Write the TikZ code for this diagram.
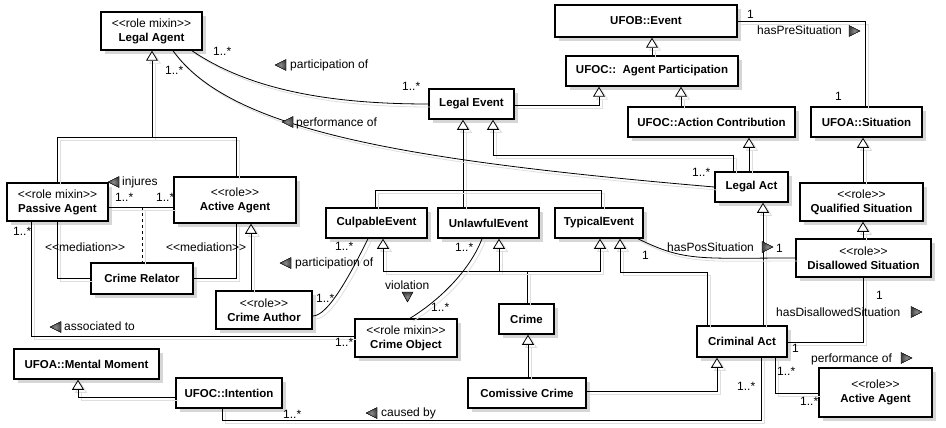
\documentclass[tikz,border=0pt]{standalone}
\usepackage{fontspec}
\setmainfont{Liberation Sans}
\usetikzlibrary{arrows.meta,shadows,calc}
\newcommand\rfont{\fontsize{12}{14}\selectfont}
\newcommand\bfont{\fontsize{11.5}{14}\selectfont\bfseries}
\newcommand\st[1]{{\rfont\mdseries <\kern0pt<#1>\kern0pt>}}
\newcommand\trileft[2]{\filldraw[tri] (#1,#2) -- ++(11,-5.5) -- ++(0,11) -- cycle;}
\newcommand\triright[2]{\filldraw[tri] (#1,#2) -- ++(-11,-5.5) -- ++(0,11) -- cycle;}
\newcommand\tridown[2]{\filldraw[tri] (#1,#2) -- ++(-5.5,-10) -- ++(11,0) -- cycle;}
\begin{document}
\begin{tikzpicture}[x=1pt,y=-1pt,
  cls/.style={draw, line width=1.5pt, fill=white, inner sep=1pt, align=center, font=\bfont,
    drop shadow={shadow xshift=4pt, shadow yshift=-4pt, fill=black!16, opacity=1}},
  conn/.style={line width=0.8pt,
    preaction={draw=black!13, line width=0.8pt, transform canvas={xshift=3pt, yshift=-3pt}}},
  gen/.style={conn, -{Triangle[open, length=10pt, width=12pt, fill=white]}},
  lbl/.style={font=\rfont, inner sep=0pt, anchor=west, text height=8.5pt, text depth=2.5pt},
  tri/.style={inner color=black!45, outer color=black!75, draw=black, line width=0.4pt}]
\fill[white] (0,0) rectangle (946,428);
\useasboundingbox (0,0) rectangle (946,428);

% classes
\node[cls, minimum width=101pt, minimum height=38pt] (LA) at (151.5,31) {\st{role mixin}\\Legal Agent};
\node[cls, minimum width=182pt, minimum height=32pt] (UE) at (646,21) {UFOB::Event};
\node[cls, minimum width=172pt, minimum height=30pt] (AP) at (652,71) {UFOC::\ \ Agent Participation};
\node[cls, minimum width=167pt, minimum height=30pt] (AC) at (711.5,122) {UFOC::Action Contribution};
\node[cls, minimum width=111pt, minimum height=30pt] (SIT) at (866.5,122) {UFOA::Situation};
\node[cls, minimum width=85pt, minimum height=30pt] (LE) at (471.5,104) {Legal Event};
\node[cls, minimum width=73pt, minimum height=30pt] (LAct) at (751.5,187) {Legal Act};
\node[cls, minimum width=123pt, minimum height=38pt] (QS) at (861.5,202) {\st{role}\\Qualified Situation};
\node[cls, minimum width=135pt, minimum height=38pt] (DS) at (863.5,258) {\st{role}\\Disallowed Situation};
\node[cls, minimum width=101pt, minimum height=30pt] (CE) at (376.5,223) {CulpableEvent};
\node[cls, minimum width=101pt, minimum height=30pt] (UnE) at (488.5,223) {UnlawfulEvent};
\node[cls, minimum width=88pt, minimum height=30pt] (TE) at (599,223) {TypicalEvent};
\node[cls, minimum width=101pt, minimum height=38pt] (PA) at (57.5,202) {\st{role mixin}\\Passive Agent};
\node[cls, minimum width=122pt, minimum height=46pt] (AA) at (235,200) {\st{role}\\Active Agent};
\node[cls, minimum width=102pt, minimum height=31pt] (CR) at (142,278.5) {Crime Relator};
\node[cls, minimum width=96pt, minimum height=38pt] (CAu) at (264,310) {\st{role}\\Crime Author};
\node[cls, minimum width=102pt, minimum height=38pt] (CO) at (406,338) {\st{role mixin}\\Crime Object};
\node[cls, minimum width=55pt, minimum height=30pt] (Crime) at (526.5,319) {Crime};
\node[cls, minimum width=118pt, minimum height=30pt] (CC) at (527,393) {Comissive Crime};
\node[cls, minimum width=90pt, minimum height=31pt] (CA) at (742,341.5) {Criminal Act};
\node[cls, minimum width=113pt, minimum height=49pt] (AA2) at (875.5,392.5) {\st{role}\\Active Agent};
\node[cls, minimum width=145pt, minimum height=30pt] (MM) at (86.5,364) {UFOA::Mental Moment};
\node[cls, minimum width=106pt, minimum height=30pt] (INT) at (229,393) {UFOC::Intention};

% generalizations
\coordinate (laj) at (152,137);
\draw[gen] (PA.north -| 57,0) |- (laj) -- (LA.south -| 152,0);
\draw[conn] (AA.north -| 236,0) |- (laj);
\draw[gen] (CAu.north -| 251,0) -- (AA.south -| 251,0);
\coordinate (lej) at (463,190);
\draw[gen] (UnE.north -| 463,0) -- (LE.south -| 463,0);
\draw[conn] (CE.north -| 375,0) |- (lej);
\draw[conn] (TE.north -| 601,0) |- (lej);
\draw[gen] (LAct.north -| 733,0) |- (493,155) -- (LE.south -| 493,0);
\draw[gen] (LAct.north -| 749,0) -- (AC.south -| 749,0);
\draw[gen] (LE.east |- 0,105) -| (AP.south -| 599,0);
\draw[gen] (AP.north -| 652,0) -- (UE.south -| 652,0);
\draw[gen] (AC.north -| 681,0) -- (AP.south -| 681,0);
\draw[gen] (QS.north -| 863,0) -- (SIT.south -| 863,0);
\draw[gen] (DS.north -| 863,0) -- (QS.south -| 863,0);
\draw[gen] (CA.north -| 763,0) -- (LAct.south -| 763,0);
\draw[gen] (CA.north -| 707,0) |- (620,272) -- (TE.south -| 620,0);
\coordinate (crj) at (527,271);
\draw[gen] (Crime.north -| 527,0) |- (383,271) -- (CE.south -| 383,0);
\draw[gen] (crj) -| (UnE.south -| 499,0);
\draw[gen] (crj) -| (TE.south -| 600,0);
\draw[gen] (CC.north -| 528,0) -- (Crime.south -| 528,0);
\draw[gen] (CC.east |- 0,391) -| (CA.south -| 717,0);
\draw[gen] (INT.west |- 0,397) -| (MM.south -| 78,0);

% associations
\draw[conn] (LA.south -| 192,0) .. controls (250,90) and (330,104) .. (LE.west |- 0,104);
\draw[conn] (LA.south -| 173,0) .. controls (230,130) and (400,160) .. (LAct.west |- 0,187);
\draw[conn] (UE.east |- 0,21) -| (SIT.north -| 865,0);
\coordinate (injm) at (142,207);
\draw[conn] (PA.east |- 0,207) -- (AA.west |- 0,207);
\draw[conn, dashed] (injm) -- (CR.north -| 142,0);
\draw[conn] (PA.south -| 57,0) |- (CR.west |- 0,278);
\draw[conn] (CR.east |- 0,278) -| (AA.south -| 236,0);
\draw[conn] (PA.south -| 31,0) |- (CO.west |- 0,336);
\draw[conn] (CAu.east |- 0,316) .. controls (328,316) and (350,275) .. (CE.south -| 368,0);
\draw[conn] (CO.north -| 410,0) .. controls (440,300) and (470,270) .. (UnE.south -| 482,0);
\draw[conn] (TE.south -| 638,0) .. controls (685,262) and (700,258) .. (DS.west |- 0,258);
\draw[conn] (DS.south -| 863,0) |- (CA.east |- 0,342);
\draw[conn] (CA.south -| 775,0) |- (AA2.west |- 0,393);
\draw[conn] (INT.south -| 222,0) |- (761,420) -- (CA.south -| 761,0);

% labels
\node[lbl] (l1) at (213,53) {1..*};
\node[lbl] (l2) at (165,72) {1..*};
\trileft{275}{65}
\node[lbl] (l3) at (290,66) {participation of};
\trileft{282}{122}
\node[lbl] (l4) at (296,123) {performance of};
\node[lbl] (l5) at (402,88) {1..*};
\node[lbl] (l6) at (692,173) {1..*};
\node[lbl] (l7) at (747,16) {1};
\node[lbl] (l8) at (757,32) {hasPreSituation};
\triright{860}{31}
\node[lbl] (l9) at (835,97) {1};
\trileft{108}{182}
\node[lbl] (l10) at (122,182) {injures};
\node[lbl] (l11) at (115,198) {1..*};
\node[lbl] (l12) at (156,198) {1..*};
\node[lbl] (l13) at (13,232) {1..*};
\node[lbl] (l14) at (45,248) {\st{mediation}};
\node[lbl] (l15) at (166,248) {\st{mediation}};
\trileft{280}{263}
\node[lbl] (l16) at (295,263) {participation of};
\node[lbl] (l17) at (335,247) {1..*};
\node[lbl] (l18) at (316,299) {1..*};
\node[lbl] (l19) at (385,286) {violation};
\tridown{407.5}{302}
\node[lbl] (l20) at (431,308) {1..*};
\node[lbl] (l21) at (455,248) {1..*};
\node[lbl] (l22) at (335,343) {1..*};
\trileft{50}{327}
\node[lbl] (l23) at (64,327) {associated to};
\node[lbl] (l24) at (642,256) {1};
\node[lbl] (l25) at (667,248) {hasPosSituation};
\triright{773}{247}
\node[lbl] (l26) at (776,249) {1};
\node[lbl] (l27) at (876,296) {1};
\node[lbl] (l28) at (776,313) {hasDisallowedSituation};
\triright{922}{312}
\node[lbl] (l29) at (792,349) {1};
\node[lbl] (l30) at (811,359) {performance of};
\triright{912}{358}
\node[lbl] (l31) at (777,372) {1..*};
\node[lbl] (l32) at (800,402) {1..*};
\node[lbl] (l33) at (737,387) {1..*};
\trileft{366}{413}
\node[lbl] (l34) at (381,413) {caused by};
\node[lbl] (l35) at (283,415) {1..*};
\end{tikzpicture}
\end{document}
